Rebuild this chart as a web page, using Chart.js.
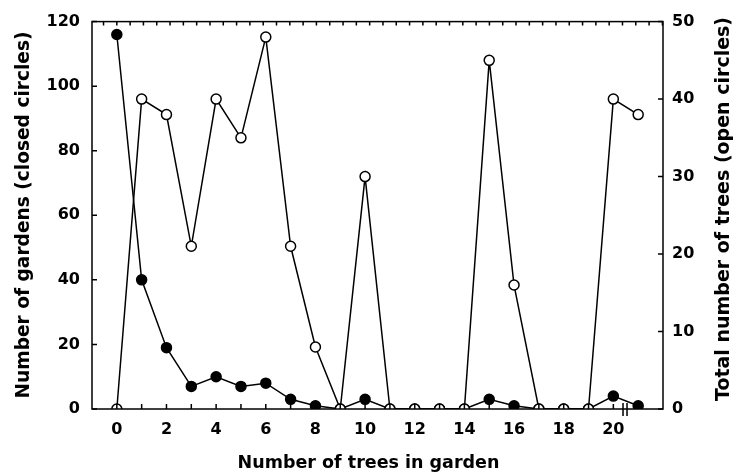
<!DOCTYPE html>
<html>
<head>
<meta charset="utf-8">
<script src="https://cdn.jsdelivr.net/npm/chart.js@4"></script>
<style>
  html, body { margin: 0; padding: 0; background: #fff; }
  #wrap { width: 735px; height: 475px; }
</style>
</head>
<body>
<div id="wrap"><canvas id="myChart"></canvas></div>
<script>
// Data
const treeCounts = [0, 1, 2, 3, 4, 5, 6, 7, 8, 9, 10, 11, 12, 13, 14, 15, 16, 17, 18, 19, 20, 21];
const gardens = [116, 40, 19, 7, 10, 7, 8, 3, 1, 0, 3, 0, 0, 0, 0, 3, 1, 0, 0, 0, 4, 1];   // closed circles
const totalTrees = [0, 40, 38, 21, 40, 35, 48, 21, 8, 0, 30, 0, 0, 0, 0, 45, 16, 0, 0, 0, 40, 38]; // open circles

// Tick labels
const xTicks = [0, 2, 4, 6, 8, 10, 12, 14, 16, 18, 20];
const gardenTicks = [0, 20, 40, 60, 80, 100, 120];
const treeTicks = [0, 10, 20, 30, 40, 50];

const topTickStep = 0.536;   // spacing of the small ticks on the top edge
const breakAt = 20.47;       // axis break between 20 and 21

Chart.defaults.font.family = "'DejaVu Sans', sans-serif";
Chart.defaults.font.weight = 'bold';
Chart.defaults.color = '#000';

function toPoints(values) {
    return treeCounts.map((t, i) => ({ x: t, y: values[i] }));
}

// frame, inward tick marks, axis break and titles
const axisDecor = {
    id: 'axisDecor',
    beforeDatasetsDraw(chart) {
        const a = chart.chartArea;
        chart.ctx.save();
        chart.ctx.beginPath();
        chart.ctx.rect(a.left, a.top, a.right - a.left, a.bottom - a.top);
        chart.ctx.clip();
    },
    afterDatasetsDraw(chart) {
        const ctx = chart.ctx;
        ctx.restore();
        const area = chart.chartArea;
        const x = chart.scales.x;
        const y = chart.scales.y;
        const y1 = chart.scales.y1;
        ctx.save();
        ctx.strokeStyle = '#000';
        ctx.lineWidth = 1.5;
        ctx.strokeRect(area.left, area.top, area.right - area.left, area.bottom - area.top);

        ctx.beginPath();
        gardenTicks.forEach(v => {
            const py = y.getPixelForValue(v);
            ctx.moveTo(area.left, py);
            ctx.lineTo(area.left + 5, py);
        });
        treeTicks.forEach(v => {
            const py = y1.getPixelForValue(v);
            ctx.moveTo(area.right, py);
            ctx.lineTo(area.right - 5, py);
        });
        treeCounts.forEach(v => {
            const px = x.getPixelForValue(v);
            ctx.moveTo(px, area.bottom);
            ctx.lineTo(px, area.bottom - 5);
        });
        for (let k = -1; k * topTickStep < x.max; k++) {
            const px = x.getPixelForValue(k * topTickStep);
            if (px <= area.left || px >= area.right) continue;
            ctx.moveTo(px, area.top);
            ctx.lineTo(px, area.top + 4);
        }
        ctx.stroke();

        // break marks
        const bx = x.getPixelForValue(breakAt);
        ctx.beginPath();
        ctx.moveTo(bx - 2, area.bottom - 6);
        ctx.lineTo(bx - 2, area.bottom + 7);
        ctx.moveTo(bx + 2, area.bottom - 6);
        ctx.lineTo(bx + 2, area.bottom + 7);
        ctx.stroke();

        ctx.fillStyle = '#000';
        ctx.textAlign = 'center';
        ctx.textBaseline = 'middle';

        // x title
        ctx.font = "bold 17.5px 'DejaVu Sans'";
        ctx.fillText('Number of trees in garden', (area.left + area.right) / 2 - 9, 463);

        // left title
        ctx.save();
        ctx.translate(24, 215);
        ctx.rotate(-Math.PI / 2);
        ctx.font = "bold 18.6px 'DejaVu Sans'";
        ctx.fillText('Number of gardens (closed circles)', 0, 0);
        ctx.restore();

        // right title reads bottom to top
        ctx.translate(724, 209);
        ctx.rotate(-Math.PI / 2);
        ctx.font = "bold 19px 'DejaVu Sans'";
        ctx.fillText('Total number of trees (open circles)', 0, 0);
        ctx.restore();
    }
};

const ctx = document.getElementById('myChart').getContext('2d');
const myChart = new Chart(ctx, {
    type: 'line',
    data: {
        datasets: [{
            label: 'Total number of trees',
            data: toPoints(totalTrees),
            yAxisID: 'y1',
            order: 0,
            borderColor: '#000',
            borderWidth: 1.5,
            pointBackgroundColor: '#fff',
            pointBorderColor: '#000',
            pointBorderWidth: 1.5,
            pointRadius: 5,
            clip: 0
        }, {
            label: 'Number of gardens',
            data: toPoints(gardens),
            yAxisID: 'y',
            order: 1,
            borderColor: '#000',
            borderWidth: 1.5,
            pointBackgroundColor: '#000',
            pointBorderColor: '#000',
            pointBorderWidth: 1.5,
            pointRadius: 5,
            clip: 0
        }]
    },
    options: {
        responsive: true,
        maintainAspectRatio: false,
        animation: false,
        layout: { padding: { top: 20, left: 0, right: 0, bottom: 0 } },
        plugins: {
            legend: { display: false },
            tooltip: { enabled: false }
        },
        scales: {
            x: {
                type: 'linear',
                min: -1,
                max: 22,
                afterBuildTicks: s => { s.ticks = xTicks.map(v => ({ value: v })); },
                afterFit: s => { s.height = 66; },
                grid: { display: false, drawTicks: false },
                border: { display: false },
                ticks: { font: { size: 16 }, padding: 11, maxRotation: 0 }
            },
            y: {
                position: 'left',
                min: 0,
                max: 120,
                afterBuildTicks: s => { s.ticks = gardenTicks.map(v => ({ value: v })); },
                afterFit: s => { s.width = 92; },
                grid: { display: false, drawTicks: false },
                border: { display: false },
                ticks: { font: { size: 16 }, padding: 12 }
            },
            y1: {
                position: 'right',
                min: 0,
                max: 50,
                afterBuildTicks: s => { s.ticks = treeTicks.map(v => ({ value: v })); },
                afterFit: s => { s.width = 72; },
                grid: { display: false, drawTicks: false },
                border: { display: false },
                ticks: { font: { size: 16 }, padding: 9 }
            }
        }
    },
    plugins: [axisDecor]
});
</script>
</body>
</html>
